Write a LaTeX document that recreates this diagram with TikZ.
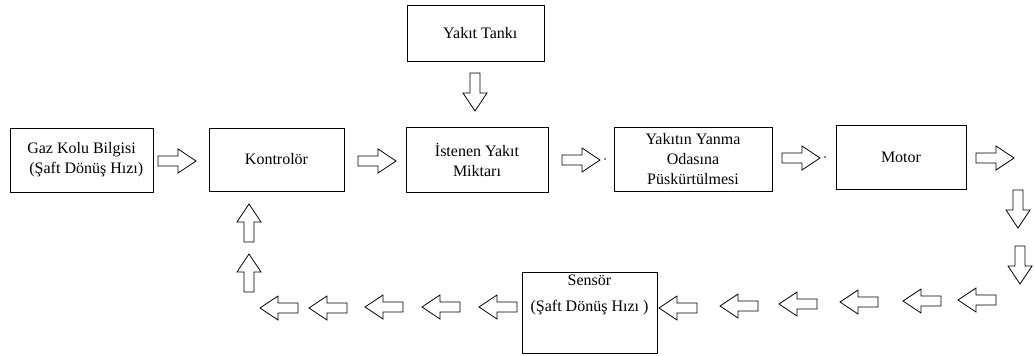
\documentclass[tikz,border=0pt]{standalone}
\usepackage{fontspec}
\setmainfont{Liberation Serif}
\newfontfamily\boxfont{Liberation Serif}
\usepackage{tikz}

\tikzset{
  blockarrow/.pic={
    \draw[arrowline] (0,-5) -- (20,-5) -- (20,-12) -- (38,0) -- (20,12) -- (20,5) -- (0,5) -- cycle;
  }
}

\begin{document}
\begin{tikzpicture}[
    x=0.75pt, y=-0.75pt,
    box/.style={rectangle, draw, line width=0.75pt, inner sep=1pt, align=center,
      font=\boxfont\fontsize{12}{15}\selectfont},
    textnode/.style={rectangle, inner sep=1pt, align=center, font=\boxfont\fontsize{12}{19.5}\selectfont},
    arrowline/.style={draw, line width=0.6pt, fill=white},
    straydot/.style={circle, fill=black, inner sep=0.45pt}
]
\useasboundingbox (0,0) rectangle (1034,355);

% boxes
\node[box, minimum width=107.25pt, minimum height=48pt] (gaz) at (81.5,160) {Gaz Kolu Bilgisi\\ \hspace*{0.6em}(Şaft Dönüş Hızı)};
\node[box, minimum width=101.25pt, minimum height=47.25pt] (kontrol) at (276.5,159.5) {Kontrolör};
\node[box, minimum width=102.75pt, minimum height=42pt] (tank) at (475.5,33) {\hspace*{0.6em}Yakıt Tankı};
\node[box, minimum width=106.5pt, minimum height=48.75pt] (istenen) at (477,159.5) {İstenen Yakıt\\Miktarı};
\node[box, minimum width=118.5pt, minimum height=48pt] (yanma) at (693,159) {Yakıtın Yanma\\Odasına\\Püskürtülmesi};
\node[box, minimum width=97.5pt, minimum height=48pt] (motor) at (901,157) {Motor};
\node[box, minimum width=101.25pt, minimum height=60.75pt] (sensor) at (589.5,312.5) {};
\node[textnode, anchor=north] (sensortext) at (589.5,273) {Sensör\\(Şaft Dönüş Hızı )};

% stray dots
\node[straydot] (dot1) at (605,159) {};
\node[straydot] (dot2) at (825,157) {};

% arrows along the top row
\pic (ar1) at (158,161) {blockarrow};
\pic (ar2) at (358,161) {blockarrow};
\pic (ar3) at (562,160) {blockarrow};
\pic (ar4) at (782,158) {blockarrow};
\pic (ar5) at (976,158) {blockarrow};

% arrows going down
\pic[rotate=-90] (ad1) at (475,73) {blockarrow};
\pic[rotate=-90] (ad2) at (1018,190) {blockarrow};
\pic[rotate=-90] (ad3) at (1020,246) {blockarrow};

% arrows along the bottom row
\pic[rotate=180] (al1) at (996,300) {blockarrow};
\pic[rotate=180] (al2) at (941,301) {blockarrow};
\pic[rotate=180] (al3) at (878,302) {blockarrow};
\pic[rotate=180] (al4) at (817,304) {blockarrow};
\pic[rotate=180] (al5) at (758,306) {blockarrow};
\pic[rotate=180] (al6) at (697,308) {blockarrow};
\pic[rotate=180] (al7) at (517,307) {blockarrow};
\pic[rotate=180] (al8) at (460,307) {blockarrow};
\pic[rotate=180] (al9) at (403,307) {blockarrow};
\pic[rotate=180] (al10) at (347,308) {blockarrow};
\pic[rotate=180] (al11) at (298,308) {blockarrow};

% arrows going up
\pic[rotate=90] (au1) at (249,292) {blockarrow};
\pic[rotate=90] (au2) at (249,242) {blockarrow};

\end{tikzpicture}
\end{document}
